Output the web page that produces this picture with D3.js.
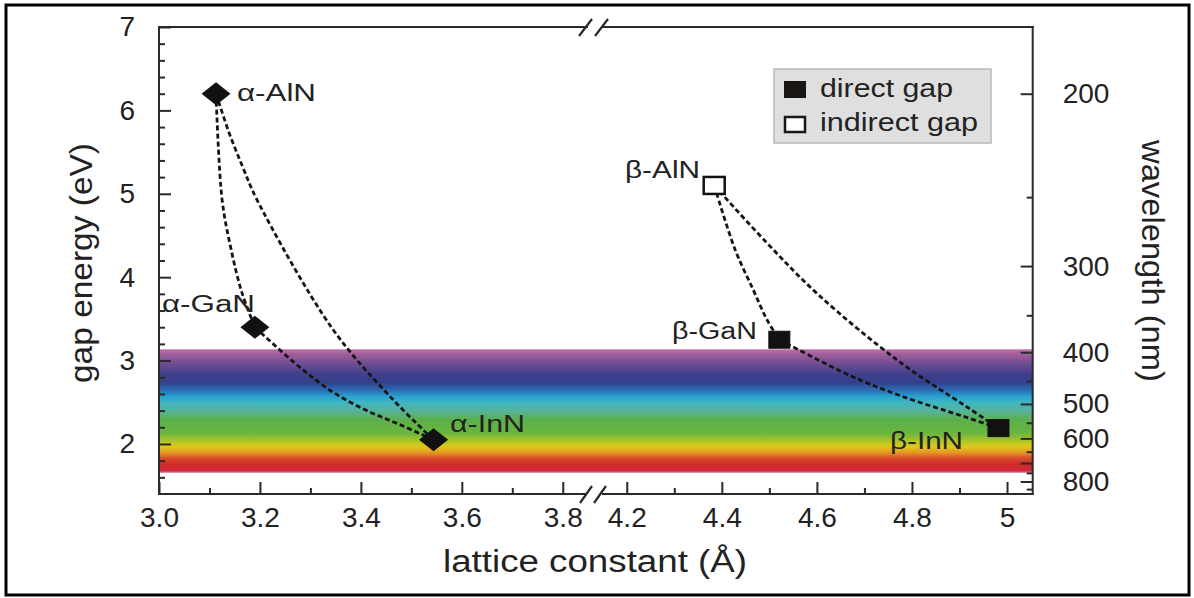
<!DOCTYPE html>
<html><head><meta charset="utf-8">
<script src="https://cdn.jsdelivr.net/npm/d3@7"></script>
<style>
html,body{margin:0;padding:0;background:#fff;}
svg text{font-family:"Liberation Sans",Arial,sans-serif;fill:#222;}
</style></head>
<body>
<svg id="chart" width="1194" height="598"></svg>
<script>
// ---------- data ----------
const alphaNames   = ["α-AlN", "α-GaN", "α-InN"];
const alphaLattice = [3.113, 3.190, 3.544];
const alphaGap     = [6.20, 3.40, 2.05];

const betaNames    = ["β-AlN", "β-GaN", "β-InN"];
const betaLattice  = [4.384, 4.521, 4.982];
const betaGap      = [5.10, 3.25, 2.19];
const betaKind     = ["indirect", "direct", "direct"];

// dashed alloy curves [lattice, gap]
const curveAlphaAlGa = [[3.113,6.20],[3.125,4.93],[3.143,4.33],[3.164,3.82],[3.190,3.40]];
const curveAlphaAlIn = [[3.113,6.20],[3.139,5.73],[3.166,5.32],[3.194,4.93],[3.345,3.37],[3.464,2.53],[3.544,2.05]];
const curveAlphaGaIn = [[3.190,3.40],[3.279,2.92],[3.345,2.62],[3.412,2.40],[3.478,2.23],[3.544,2.05]];
const curveBetaAlGa  = [[4.384,5.10],[4.428,4.33],[4.466,3.85],[4.495,3.49],[4.521,3.25]];
const curveBetaAlIn  = [[4.384,5.10],[4.495,4.41],[4.603,3.79],[4.775,2.98],[4.914,2.45],[4.982,2.19]];
const curveBetaGaIn  = [[4.521,3.25],[4.670,2.82],[4.775,2.58],[4.914,2.32],[4.982,2.19]];

const xLeftTicks   = [3.0, 3.2, 3.4, 3.6, 3.8];
const xLeftLabels  = ["3.0", "3.2", "3.4", "3.6", "3.8"];
const xLeftMinor   = [3.1, 3.3, 3.5, 3.7];
const xRightTicks  = [4.2, 4.4, 4.6, 4.8, 5.0];
const xRightLabels = ["4.2", "4.4", "4.6", "4.8", "5"];
const xRightMinor  = [4.3, 4.5, 4.7, 4.9];
const yTicks       = [2, 3, 4, 5, 6, 7];
const yLabels      = ["2", "3", "4", "5", "6", "7"];
const yMinor       = [1.6, 1.8, 2.2, 2.4, 2.6, 2.8, 3.2, 3.4, 3.6, 3.8, 4.2, 4.4, 4.6, 4.8, 5.2, 5.4, 5.6, 5.8, 6.2, 6.4, 6.6, 6.8];
const wlMajor      = [200, 300, 400, 500, 600, 700, 800];
const wlLabels     = ["200", "300", "400", "500", "600", "", "800"];
const wlMinor      = [250, 350, 450, 550, 650, 750, 850];
const hc = 1240; // eV·nm

const bandTopEV = 3.135, bandBottomEV = 1.655; // visible spectrum band
const spectrumStops = [
  [0.00,"#c070a8"],[0.04,"#a05e9c"],[0.12,"#6e4c92"],[0.20,"#40408a"],[0.27,"#343f8c"],
  [0.33,"#2c6cb2"],[0.38,"#28a0d0"],[0.43,"#3eb6c2"],[0.50,"#56b39a"],[0.57,"#5bb04c"],
  [0.68,"#6ab63f"],[0.75,"#b5c626"],[0.79,"#dfc81a"],[0.84,"#e39424"],[0.88,"#d9502a"],
  [0.93,"#d02a2b"],[0.98,"#d0283a"],[1.00,"#e06a86"]
];

// ---------- layout ----------
const svg = d3.select("#chart");
const L = 159, R = 1032.7, T = 27, B = 494;
const y  = d3.scaleLinear().domain([1.4, 7]).range([B, T]);
const xL = d3.scaleLinear().domain([3.0, 3.85]).range([L, 588]);
const xR = d3.scaleLinear().domain([4.145, 5.054]).range([600.6, R]);
const x  = a => a < 4 ? xL(a) : xR(a);
const ink = "#2a2a2a";

// outer frame
svg.append("rect").attr("x", 6).attr("y", 5).attr("width", 1183).attr("height", 590)
  .attr("fill", "none").attr("stroke", "#000").attr("stroke-width", 3);

// spectrum band
const defs = svg.append("defs");
const grad = defs.append("linearGradient").attr("id", "spec")
  .attr("x1", 0).attr("y1", 0).attr("x2", 0).attr("y2", 1);
spectrumStops.forEach(s => grad.append("stop").attr("offset", s[0]).attr("stop-color", s[1]));
svg.append("rect").attr("x", L).attr("y", y(bandTopEV)).attr("width", R - L)
  .attr("height", y(bandBottomEV) - y(bandTopEV)).attr("fill", "url(#spec)");

// dashed curves
const line = d3.line().x(d => x(d[0])).y(d => y(d[1])).curve(d3.curveCatmullRom.alpha(0.5));
[curveAlphaAlGa, curveAlphaAlIn, curveAlphaGaIn, curveBetaAlGa, curveBetaAlIn, curveBetaGaIn]
  .forEach(c => svg.append("path").attr("d", line(c)).attr("fill", "none")
    .attr("stroke", "#151515").attr("stroke-width", 2.8).attr("stroke-dasharray", "5,3"));

// markers
const diamond = (hw, hh) => `M0,${-hh}L${hw},0L0,${hh}L${-hw},0Z`;
alphaLattice.forEach((a, i) => svg.append("path")
  .attr("d", diamond(14.5, 11.5)).attr("transform", `translate(${x(a)},${y(alphaGap[i])})`)
  .attr("fill", "#111"));
betaLattice.forEach((a, i) => {
  const open = betaKind[i] === "indirect";
  svg.append("rect").attr("x", x(a) - 10.5).attr("y", y(betaGap[i]) - 8.5)
    .attr("width", 21).attr("height", 17)
    .attr("fill", open ? "#fff" : "#111").attr("stroke", "#111").attr("stroke-width", open ? 2.5 : 1);
});

// point labels
const labelPos = {
  "α-AlN": [237, 101, 79], "α-GaN": [162, 312, 93], "α-InN": [450, 432, 75],
  "β-AlN": [625, 178, 75], "β-GaN": [672, 339, 85], "β-InN": [890, 449, 73]
};
alphaNames.concat(betaNames).forEach(n => {
  const p = labelPos[n];
  svg.append("text").attr("x", p[0]).attr("y", p[1]).attr("font-size", 23)
    .attr("textLength", p[2]).attr("lengthAdjust", "spacingAndGlyphs").text(n);
});

// axes
function styleAxis(g) {
  g.select(".domain").remove();
  g.selectAll(".tick line").attr("stroke", ink).attr("stroke-width", 2);
  g.selectAll(".tick text").attr("font-size", 28).attr("fill", "#222")
    .attr("font-family", '"Liberation Sans",Arial,sans-serif');
}
const gxl = svg.append("g").attr("transform", `translate(0,${B})`)
  .call(d3.axisBottom(xL).tickValues(xLeftTicks).tickFormat((d, i) => xLeftLabels[i])
    .tickSizeInner(-12).tickSizeOuter(0).tickPadding(13));
styleAxis(gxl);
const gxlm = svg.append("g").attr("transform", `translate(0,${B})`)
  .call(d3.axisBottom(xL).tickValues(xLeftMinor).tickFormat("").tickSizeInner(-6).tickSizeOuter(0));
styleAxis(gxlm);
const gxr = svg.append("g").attr("transform", `translate(0,${B})`)
  .call(d3.axisBottom(xR).tickValues(xRightTicks).tickFormat((d, i) => xRightLabels[i])
    .tickSizeInner(-12).tickSizeOuter(0).tickPadding(13));
styleAxis(gxr);
const gxrm = svg.append("g").attr("transform", `translate(0,${B})`)
  .call(d3.axisBottom(xR).tickValues(xRightMinor).tickFormat("").tickSizeInner(-6).tickSizeOuter(0));
styleAxis(gxrm);

const gy = svg.append("g").attr("transform", `translate(${L},0)`)
  .call(d3.axisLeft(y).tickValues(yTicks).tickFormat((d, i) => yLabels[i])
    .tickSizeInner(-12).tickSizeOuter(0).tickPadding(24));
styleAxis(gy);
const gym = svg.append("g").attr("transform", `translate(${L},0)`)
  .call(d3.axisLeft(y).tickValues(yMinor).tickFormat("").tickSizeInner(-6).tickSizeOuter(0));
styleAxis(gym);

const gw = svg.append("g").attr("transform", `translate(${R},0)`)
  .call(d3.axisRight(y).tickValues(wlMajor.map(w => hc / w)).tickFormat((d, i) => wlLabels[i])
    .tickSizeInner(-12).tickSizeOuter(0).tickPadding(30));
styleAxis(gw);
const gwm = svg.append("g").attr("transform", `translate(${R},0)`)
  .call(d3.axisRight(y).tickValues(wlMinor.map(w => hc / w)).tickFormat("").tickSizeInner(-6).tickSizeOuter(0));
styleAxis(gwm);

// frame lines with break
const frame = [
  [L, T, L, B], [R, T, R, B],
  [L, B, 585, B], [603, B, R, B],
  [L, T, 587, T], [602, T, R, T]
];
frame.forEach(s => svg.append("line").attr("x1", s[0]).attr("y1", s[1]).attr("x2", s[2]).attr("y2", s[3])
  .attr("stroke", ink).attr("stroke-width", 2).attr("stroke-linecap", "square"));
const slashes = [
  [580, B + 9, 592, B - 8], [594, B + 9, 606, B - 8],
  [579, T + 9, 592, T - 8], [595, T + 9, 608, T - 8]
];
slashes.forEach(s => svg.append("line").attr("x1", s[0]).attr("y1", s[1]).attr("x2", s[2]).attr("y2", s[3])
  .attr("stroke", ink).attr("stroke-width", 2.2));

// axis titles
svg.append("text").attr("x", 595).attr("y", 572).attr("text-anchor", "middle")
  .attr("font-size", 31).attr("textLength", 304).attr("lengthAdjust", "spacingAndGlyphs")
  .text("lattice constant (Å)");
svg.append("text").attr("transform", "translate(92,263) rotate(-90)").attr("text-anchor", "middle")
  .attr("font-size", 31).attr("textLength", 240).attr("lengthAdjust", "spacingAndGlyphs")
  .text("gap energy (eV)");
svg.append("text").attr("transform", "translate(1142,261) rotate(90)").attr("text-anchor", "middle")
  .attr("font-size", 31).attr("textLength", 242).attr("lengthAdjust", "spacingAndGlyphs")
  .text("wavelength (nm)");

// legend
const lg = svg.append("g");
lg.append("rect").attr("x", 774).attr("y", 69).attr("width", 217).attr("height", 74)
  .attr("fill", "#dfdfdf").attr("stroke", "#b8b8b8").attr("stroke-width", 1.5);
lg.append("rect").attr("x", 784).attr("y", 81).attr("width", 22).attr("height", 17).attr("fill", "#1a1614");
lg.append("rect").attr("x", 785).attr("y", 117).attr("width", 20).attr("height", 15)
  .attr("fill", "#fff").attr("stroke", "#1a1614").attr("stroke-width", 2.5);
lg.append("text").attr("x", 820).attr("y", 97).attr("font-size", 25)
  .attr("textLength", 133).attr("lengthAdjust", "spacingAndGlyphs").text("direct gap");
lg.append("text").attr("x", 820).attr("y", 131).attr("font-size", 25)
  .attr("textLength", 158).attr("lengthAdjust", "spacingAndGlyphs").text("indirect gap");
</script>
</body></html>
